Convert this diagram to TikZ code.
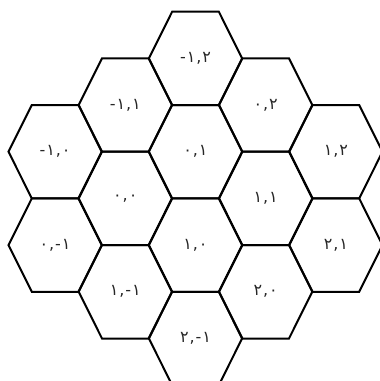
\documentclass[tikz,border=0pt]{standalone}
\usepackage{fontspec}
\usepackage{tikz}
\newfontfamily\persiano[LetterSpace=6]{DejaVu Sans}

\tikzset{
    cella/.style={line width=2pt, line join=miter},
    etichetta/.style={font=\persiano\fontsize{16}{16}\selectfont, text=black!85, inner sep=0pt}
}

\begin{document}
\begin{tikzpicture}[x=1pt, y=-1pt]
    % Area del disegno
    \useasboundingbox (0,0) rectangle (380,381);
    \clip (0,0) rectangle (380,381);

    % Esagoni con le coordinate
    \foreach \cx/\cy/\nome/\testo in {
        55.1/151.7/ca/{-۱,۰}, 55.1/245.1/cb/{۰,-۱},
        125.3/105/cc/{-۱,۱}, 125.3/198.4/cd/{۰,۰}, 125.3/291.8/ce/{۱,-۱},
        195.5/58.3/cf/{-۱,۲}, 195.5/151.7/cg/{۰,۱}, 195.5/245.1/ch/{۱,۰}, 195.5/338.5/ci/{۲,-۱},
        265.7/105/cj/{۰,۲}, 265.7/198.4/ck/{۱,۱}, 265.7/291.8/cl/{۲,۰},
        335.9/151.7/cm/{۱,۲}, 335.9/245.1/cn/{۲,۱}}
    {
        \draw[cella] (\cx,\cy) ++(-46.6,0) -- ++(23.3,-46.7) -- ++(46.6,0)
            -- ++(23.3,46.7) -- ++(-23.3,46.7) -- ++(-46.6,0) -- cycle;
        \node[etichetta] (\nome) at (\cx,\cy) {\testo};
    }
\end{tikzpicture}
\end{document}
